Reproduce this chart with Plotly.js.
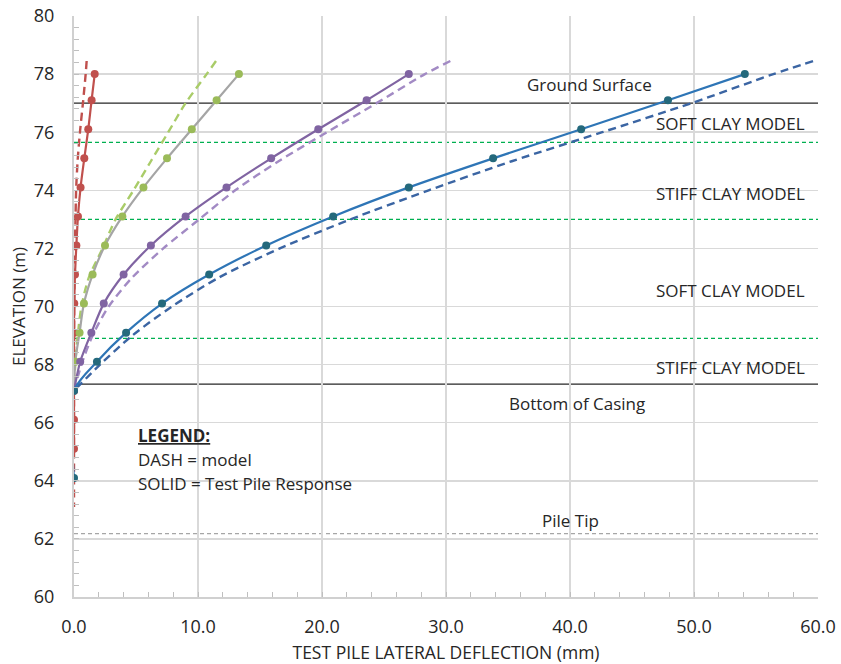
<!DOCTYPE html>
<html>
<head>
<meta charset="utf-8">
<script src="https://cdn.plot.ly/plotly-3.0.1.min.js"></script>
<style>html,body{margin:0;padding:0;background:#fff;}#chart{width:841px;height:664px;}</style>
</head>
<body>
<div id="chart"></div>
<script>
// ---- Data ----
const elevTest  = [78.0, 77.1, 76.1, 75.1, 74.1, 73.1, 72.1, 71.1, 70.1, 69.1, 68.1, 67.1];
const elevRed   = [78.0, 77.1, 76.1, 75.1, 74.1, 73.1, 72.1, 71.1, 70.1, 69.1, 68.1, 67.1, 66.1, 65.1];
const elevBlue  = [78.0, 77.1, 76.1, 75.1, 74.1, 73.1, 72.1, 71.1, 70.1, 69.1, 68.1, 67.1, 64.1];
const elevModel = [78.45, 78.0, 77.0, 76.0, 75.0, 74.0, 73.0, 72.0, 71.0, 70.0, 69.0, 68.0, 67.1];
const elevRedModel = [78.45, 78.0, 77.0, 76.0, 75.0, 74.0, 73.0, 72.0, 71.0, 70.0, 69.0, 68.0, 67.0, 66.0, 65.0, 64.0, 63.1];

const redTest    = [1.67, 1.42, 1.15, 0.83, 0.53, 0.32, 0.19, 0.08, 0.02, 0.0, 0.0, 0.0, 0.0, 0.0];
const redModel   = [1.02, 0.94, 0.72, 0.48, 0.29, 0.17, 0.12, 0.07, 0.04, 0.02, 0.01, 0.0, 0.0, 0.0, 0.0, 0.0, 0.0];
const greenTest  = [13.3, 11.5, 9.5, 7.5, 5.6, 3.9, 2.5, 1.5, 0.8, 0.45, 0.1, 0.0];
const greenModel = [11.45, 10.7, 9.0, 7.6, 6.2, 4.8, 3.35, 2.3, 1.2, 0.6, 0.3, 0.1, 0.0];
const purpleTest = [27.0, 23.6, 19.7, 15.9, 12.3, 9.0, 6.2, 4.0, 2.4, 1.4, 0.5, 0.0];
const purpleModel= [30.35, 28.3, 24.4, 20.4, 16.5, 13.0, 10.1, 7.2, 4.7, 2.8, 1.5, 0.6, 0.0];
const blueTest   = [54.1, 47.9, 40.9, 33.8, 27.0, 20.9, 15.5, 10.9, 7.1, 4.2, 1.85, 0.0, 0.0];
const blueModel  = [59.6, 56.4, 49.8, 42.6, 35.3, 28.6, 22.3, 16.6, 11.7, 7.9, 4.7, 2.1, 0.0];

// reference elevations drawn as horizontal lines
const groundSurface = 78.0;
const casingTop = 77.0;
const layerBounds = [75.65, 73.0, 68.9];
const bottomOfCasing = 67.33;
const pileTip = 62.18;

const FONT = '"Open Sans", Lato, sans-serif';
const TXT = '#262626';

function model(x, y, color) {
  return {x: x, y: y, type: 'scatter', mode: 'lines', hoverinfo: 'skip',
    line: {color: color, width: 2.4, dash: '8px,5px', shape: 'spline', smoothing: 0.8}};
}
function test(x, y, lineColor, markerColor) {
  return {x: x, y: y, type: 'scatter', mode: 'lines+markers',
    line: {color: lineColor, width: 2.2, shape: 'spline', smoothing: 0.8},
    marker: {color: markerColor, size: 8}};
}

const traces = [
  model(redModel, elevRedModel, '#c0504d'),
  model(greenModel, elevModel, '#a9cc68'),
  model(purpleModel, elevModel, '#a28ac4'),
  model(blueModel, elevModel, '#3b65a3'),
  test(redTest, elevRed, '#c0504d', '#c0504d'),
  test(greenTest, elevTest, '#a5a5a5', '#9bbb59'),
  test(purpleTest, elevTest, '#8064a2', '#8064a2'),
  test(blueTest, elevBlue, '#2e75b6', '#24697c')
];

const shapes = [];
function hline(y, color, dash, width) {
  shapes.push({type: 'line', xref: 'paper', x0: 0, x1: 1, yref: 'y', y0: y, y1: y,
    layer: 'between', line: {color: color, width: width, dash: dash}});
}
hline(groundSurface, '#a6a6a6', '4px,3px', 1.2);
hline(casingTop, '#262626', 'solid', 1.2);
layerBounds.forEach(v => hline(v, '#00b050', '4px,3px', 1.2));
hline(bottomOfCasing, '#262626', 'solid', 1.2);
hline(pileTip, '#a6a6a6', '4px,3px', 1.2);

function label(x, y, text, anchor) {
  return {x: x, y: y, xref: 'x', yref: 'y', text: text, showarrow: false,
    xanchor: anchor || 'center', yanchor: 'middle', font: {family: FONT, size: 17, color: TXT}};
}
const annotations = [
  label(41.6, 77.64, 'Ground Surface'),
  label(59.1, 76.3, 'SOFT CLAY MODEL', 'right'),
  label(59.1, 73.9, 'STIFF CLAY MODEL', 'right'),
  label(59.1, 70.55, 'SOFT CLAY MODEL', 'right'),
  label(59.1, 67.9, 'STIFF CLAY MODEL', 'right'),
  label(40.6, 66.66, 'Bottom of Casing'),
  label(40.0, 62.62, 'Pile Tip'),
  label(5.0, 65.55, '<b><u>LEGEND:</u></b>', 'left'),
  label(5.0, 64.72, 'DASH = model', 'left'),
  label(5.0, 63.9, 'SOLID = Test Pile Response', 'left')
];

const layout = {
  width: 841, height: 664,
  margin: {l: 74, r: 23, t: 16, b: 67},
  paper_bgcolor: '#ffffff', plot_bgcolor: '#ffffff',
  showlegend: false,
  font: {family: FONT, size: 16, color: TXT},
  xaxis: {
    range: [0, 60], dtick: 10, tickformat: '.1f',
    showgrid: true, gridcolor: '#d9d9d9', gridwidth: 1.5,
    showline: true, linecolor: '#d0d0d0', linewidth: 2,
    ticks: 'inside', ticklen: 5, tickcolor: '#bfbfbf',
    minor: {dtick: 2, ticks: 'inside', ticklen: 5, tickcolor: '#bfbfbf', showgrid: false},
    zeroline: false, ticklabelstandoff: 12,
    tickfont: {family: FONT, size: 18, color: TXT},
    title: {text: 'TEST PILE LATERAL DEFLECTION (mm)', font: {family: FONT, size: 17.5, color: TXT}, standoff: 17}
  },
  yaxis: {
    range: [60, 80], dtick: 2,
    showgrid: true, gridcolor: '#d9d9d9', gridwidth: 1.5,
    showline: true, linecolor: '#d0d0d0', linewidth: 2,
    ticks: 'inside', ticklen: 5, tickcolor: '#bfbfbf',
    minor: {dtick: 0.4, ticks: 'inside', ticklen: 5, tickcolor: '#bfbfbf', showgrid: false},
    zeroline: false, ticklabelstandoff: 14,
    tickfont: {family: FONT, size: 18, color: TXT},
    title: {text: 'ELEVATION (m)', font: {family: FONT, size: 17, color: TXT}, standoff: 4}
  },
  shapes: shapes,
  annotations: annotations
};

Plotly.newPlot('chart', traces, layout, {displayModeBar: false, staticPlot: true});
</script>
</body>
</html>
